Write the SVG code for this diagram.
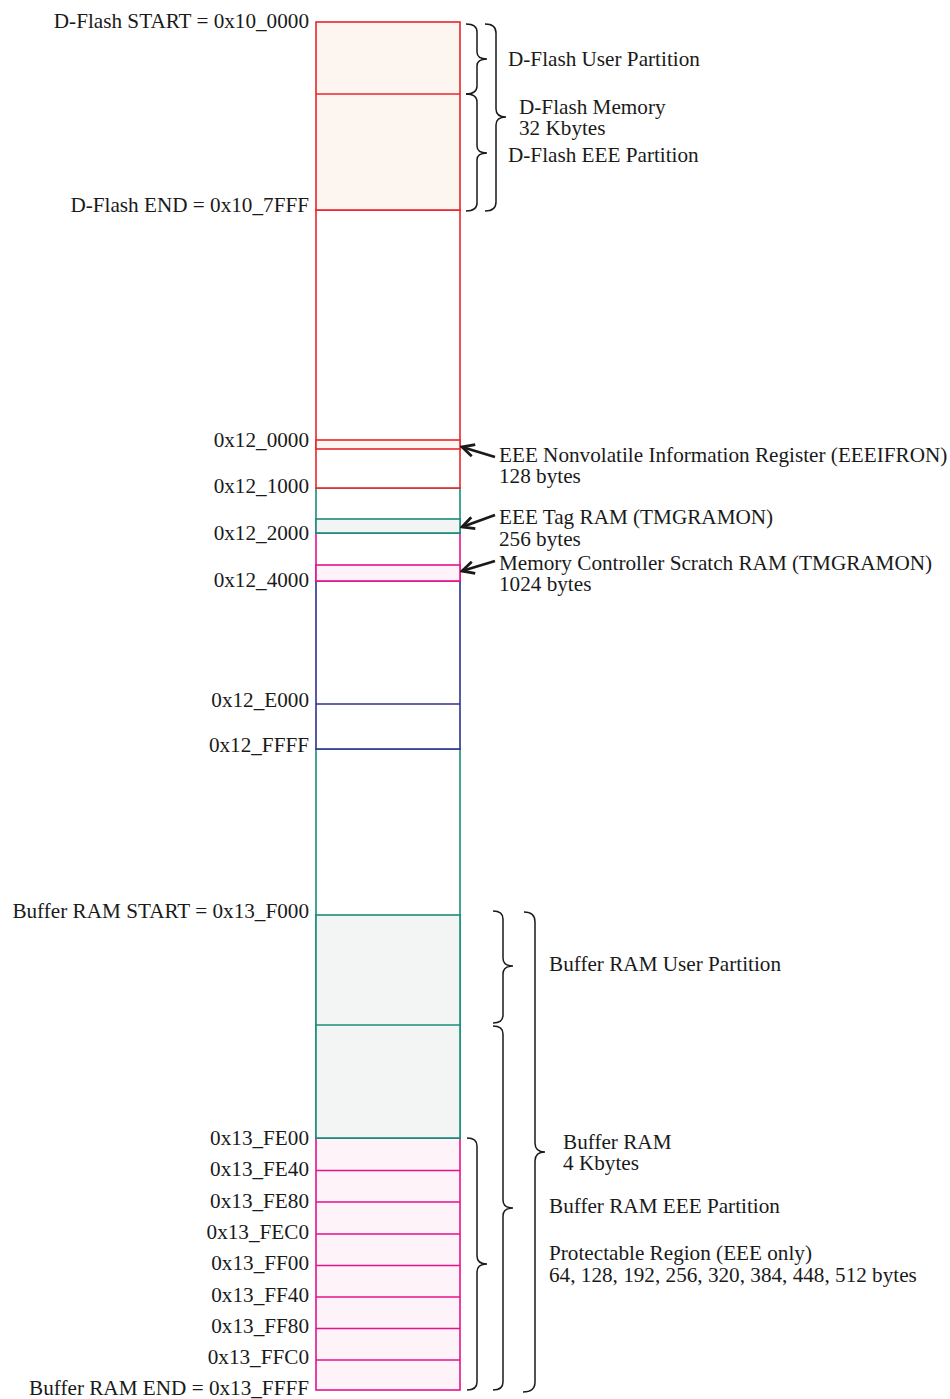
<svg xmlns="http://www.w3.org/2000/svg" width="950" height="1399" viewBox="0 0 950 1399">
<defs>
<style>
text{font-family:"Liberation Serif","Times New Roman",serif;font-size:21.2px;fill:#1a1a1a}
.l{text-anchor:end}
.red{stroke:#e8262c;stroke-width:1.6}
.teal{stroke:#1a8c7c;stroke-width:1.6}
.mag{stroke:#e4138b;stroke-width:1.6}
.navy{stroke:#2e3192;stroke-width:1.6}
.brace{fill:none;stroke:#1a1a1a;stroke-width:1.5}
.arr{stroke:#1a1a1a;stroke-width:2.8;fill:none}
</style>
<marker id="ah" markerUnits="userSpaceOnUse" viewBox="0 0 16 14" refX="14" refY="7" markerWidth="16" markerHeight="14" orient="auto">
<path d="M2,1 L14,7 L2,13" fill="none" stroke="#1a1a1a" stroke-width="2.8"/>
</marker>
</defs>
<rect width="950" height="1399" fill="#ffffff"/>

<g id="buffer-eee">
<rect x="316" y="1138" width="144" height="252" fill="#fdf3f8" class="mag"/>
<g class="mag">
<line x1="316" y1="1170.5" x2="460" y2="1170.5"/>
<line x1="316" y1="1202" x2="460" y2="1202"/>
<line x1="316" y1="1234" x2="460" y2="1234"/>
<line x1="316" y1="1265.5" x2="460" y2="1265.5"/>
<line x1="316" y1="1297" x2="460" y2="1297"/>
<line x1="316" y1="1328.5" x2="460" y2="1328.5"/>
<line x1="316" y1="1360" x2="460" y2="1360"/>
</g>
</g>
<g id="buffer-ram">
<rect x="316" y="749" width="144" height="389" fill="#ffffff" class="teal"/>
<rect x="316" y="915" width="144" height="223" fill="#f3f5f4" class="teal"/>
<line x1="316" y1="1025" x2="460" y2="1025" class="teal"/>
</g>
<g id="region-navy">
<rect x="316" y="581" width="144" height="168" fill="#ffffff" class="navy"/>
<line x1="316" y1="704" x2="460" y2="704" class="navy"/>
</g>
<g id="region-mag">
<rect x="316" y="533" width="144" height="48" fill="#ffffff" class="mag"/>
<rect x="316" y="565" width="144" height="16" fill="#fdf3f8" class="mag"/>
</g>
<g id="region-teal">
<rect x="316" y="488" width="144" height="45" fill="#ffffff" class="teal"/>
<rect x="316" y="519" width="144" height="14" fill="#f3f5f4" class="teal"/>
</g>
<g id="region-red">
<rect x="316" y="210" width="144" height="278" fill="#ffffff" class="red"/>
<rect x="316" y="440" width="144" height="9" fill="#fdf5f0" class="red"/>
</g>
<g id="dflash">
<rect x="316" y="22" width="144" height="188" fill="#fdf5f0" class="red"/>
<line x1="316" y1="94" x2="460" y2="94" class="red"/>
</g>

<g id="address-labels">
<text class="l" x="309" y="28">D-Flash START = 0x10_0000</text>
<text class="l" x="309" y="212">D-Flash END = 0x10_7FFF</text>
<text class="l" x="309" y="447">0x12_0000</text>
<text class="l" x="309" y="493">0x12_1000</text>
<text class="l" x="309" y="540">0x12_2000</text>
<text class="l" x="309" y="587">0x12_4000</text>
<text class="l" x="309" y="707">0x12_E000</text>
<text class="l" x="309" y="752">0x12_FFFF</text>
<text class="l" x="309" y="918">Buffer RAM START = 0x13_F000</text>
<text class="l" x="309" y="1145">0x13_FE00</text>
<text class="l" x="309" y="1176">0x13_FE40</text>
<text class="l" x="309" y="1208">0x13_FE80</text>
<text class="l" x="309" y="1239">0x13_FEC0</text>
<text class="l" x="309" y="1270">0x13_FF00</text>
<text class="l" x="309" y="1302">0x13_FF40</text>
<text class="l" x="309" y="1333">0x13_FF80</text>
<text class="l" x="309" y="1364">0x13_FFC0</text>
<text class="l" x="309" y="1395">Buffer RAM END = 0x13_FFFF</text>
</g>

<g id="braces">
<path class="brace" d="M466,24 Q477,24 477,32 L477,52 Q477,59 487,59 Q477,59 477,66 L477,86 Q477,94 466,94"/>
<path class="brace" d="M466,94 Q477,94 477,102 L477,146 Q477,153 487,153 Q477,153 477,160 L477,203 Q477,211 466,211"/>
<path class="brace" d="M485,24 Q496,24 496,33 L496,109 Q496,117 506,117 Q496,117 496,125 L496,202 Q496,211 485,211"/>
<path class="brace" d="M493,911 Q503,911 503,919 L503,958 Q503,966 513,966 Q503,966 503,974 L503,1015 Q503,1023 493,1023"/>
<path class="brace" d="M493,1026 Q503,1026 503,1034 L503,1200 Q503,1208 513,1208 Q503,1208 503,1216 L503,1382 Q503,1390 493,1390"/>
<path class="brace" d="M524,912 Q535,912 535,922 L535,1143 Q535,1152 545,1152 Q535,1152 535,1161 L535,1382 Q535,1392 523,1392"/>
<path class="brace" d="M467,1138 Q477,1138 477,1146 L477,1256 Q477,1264 487,1264 Q477,1264 477,1272 L477,1382 Q477,1390 467,1390"/>
</g>

<g id="brace-labels">
<text x="508" y="66">D-Flash User Partition</text>
<text x="519" y="114">D-Flash Memory<tspan x="519" dy="21">32 Kbytes</tspan></text>
<text x="508" y="162">D-Flash EEE Partition</text>
<text x="549" y="971">Buffer RAM User Partition</text>
<text x="563" y="1149">Buffer RAM<tspan x="563" dy="21">4 Kbytes</tspan></text>
<text x="549" y="1213">Buffer RAM EEE Partition</text>
<text x="549" y="1260">Protectable Region (EEE only)<tspan x="549" dy="22">64, 128, 192, 256, 320, 384, 448, 512 bytes</tspan></text>
</g>

<g id="connectors">
<line class="arr" x1="495" y1="457" x2="462" y2="447" marker-end="url(#ah)"/>
<line class="arr" x1="495" y1="515" x2="462" y2="527" marker-end="url(#ah)"/>
<line class="arr" x1="495" y1="561" x2="462" y2="571" marker-end="url(#ah)"/>
</g>

<g id="callouts">
<g id="eeeifron">
<text x="499" y="462">EEE Nonvolatile Information Register (EEEIFRON)<tspan x="499" dy="21">128 bytes</tspan></text>
</g>
<g id="tag-ram">
<text x="499" y="524">EEE Tag RAM (TMGRAMON)<tspan x="499" dy="22">256 bytes</tspan></text>
</g>
<g id="scratch-ram">
<text x="499" y="570">Memory Controller Scratch RAM (TMGRAMON)<tspan x="499" dy="21">1024 bytes</tspan></text>
</g>
</g>
</svg>
